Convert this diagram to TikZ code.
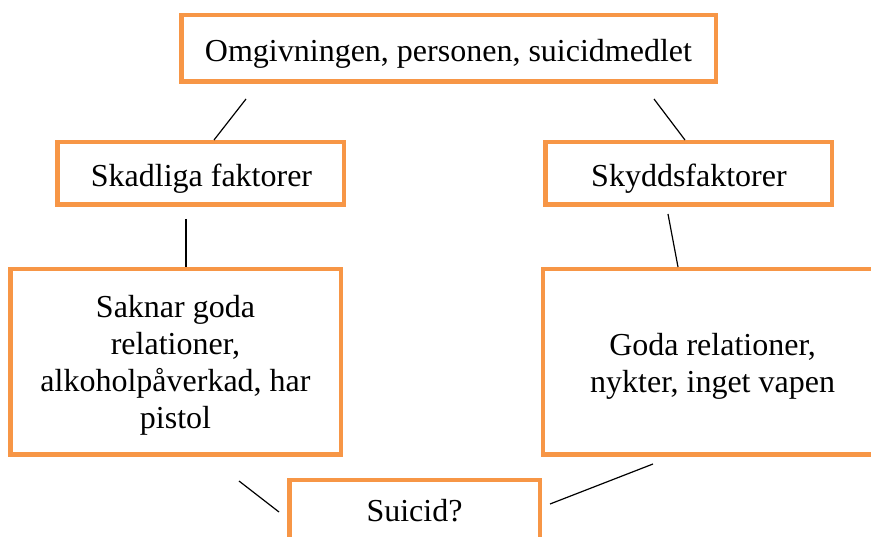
\documentclass[tikz,border=0pt]{standalone}
\usepackage{fontspec}
\setmainfont{Liberation Serif}
\definecolor{boxorange}{HTML}{F79646}
\begin{document}
\begin{tikzpicture}[x=1pt,y=-1pt,
  box/.style={draw=boxorange,line width=4.5pt,fill=white,inner sep=0pt,rectangle},
  txt/.style={inner sep=0pt,align=center,font=\fontsize{32}{36.8}\selectfont},
  conn/.style={draw=black,line width=1.2pt}]
\useasboundingbox (0,0) rectangle (871,537);
\clip (0,0) rectangle (871,537);
% boxes (centre, size of the drawn line)
\node[box,minimum width=534.5pt,minimum height=66.5pt] (top) at (448.5,48.5) {};
\node[box,minimum width=286.5pt,minimum height=62.5pt] (skad) at (200.5,173.5) {};
\node[box,minimum width=286.5pt,minimum height=62.5pt] (skydd) at (688.5,173.5) {};
\node[box,minimum width=330.5pt,minimum height=185.5pt] (lbig) at (175.5,362) {};
\node[box,minimum width=338.75pt,minimum height=185.5pt] (rbig) at (712.6,362) {};
\node[box,minimum width=250.5pt,minimum height=70pt] (sui) at (414.5,515.25) {};
% texts
\node[txt] (ttop) at (448.5,53.5) {Omgivningen, personen, suicidmedlet};
\node[txt] (tskad) at (201.5,178.5) {Skadliga faktorer};
\node[txt] (tskydd) at (689,178.5) {Skyddsfaktorer};
\node[txt] (tlbig) at (175.5,365.5) {Saknar goda\\relationer,\\alkoholpåverkad, har\\pistol};
\node[txt] (trbig) at (712.6,366) {Goda relationer,\\nykter, inget vapen};
\node[txt] (tsui) at (414.5,511) {Suicid?};
% connector end points
\coordinate (c1a) at (246,99);  \coordinate (c1b) at (214,140);
\coordinate (c2a) at (654,99);  \coordinate (c2b) at (685,140);
\coordinate (c3a) at (186,219); \coordinate (c3b) at (186,267);
\coordinate (c4a) at (668,214); \coordinate (c4b) at (678,267);
\coordinate (c5a) at (239,481); \coordinate (c5b) at (279,512);
\coordinate (c6a) at (653,464); \coordinate (c6b) at (550,504);
\draw[conn] (c1a) -- (c1b);
\draw[conn] (c2a) -- (c2b);
\draw[conn] (c3a) -- (c3b);
\draw[conn] (c4a) -- (c4b);
\draw[conn] (c5a) -- (c5b);
\draw[conn] (c6a) -- (c6b);
\end{tikzpicture}
\end{document}
